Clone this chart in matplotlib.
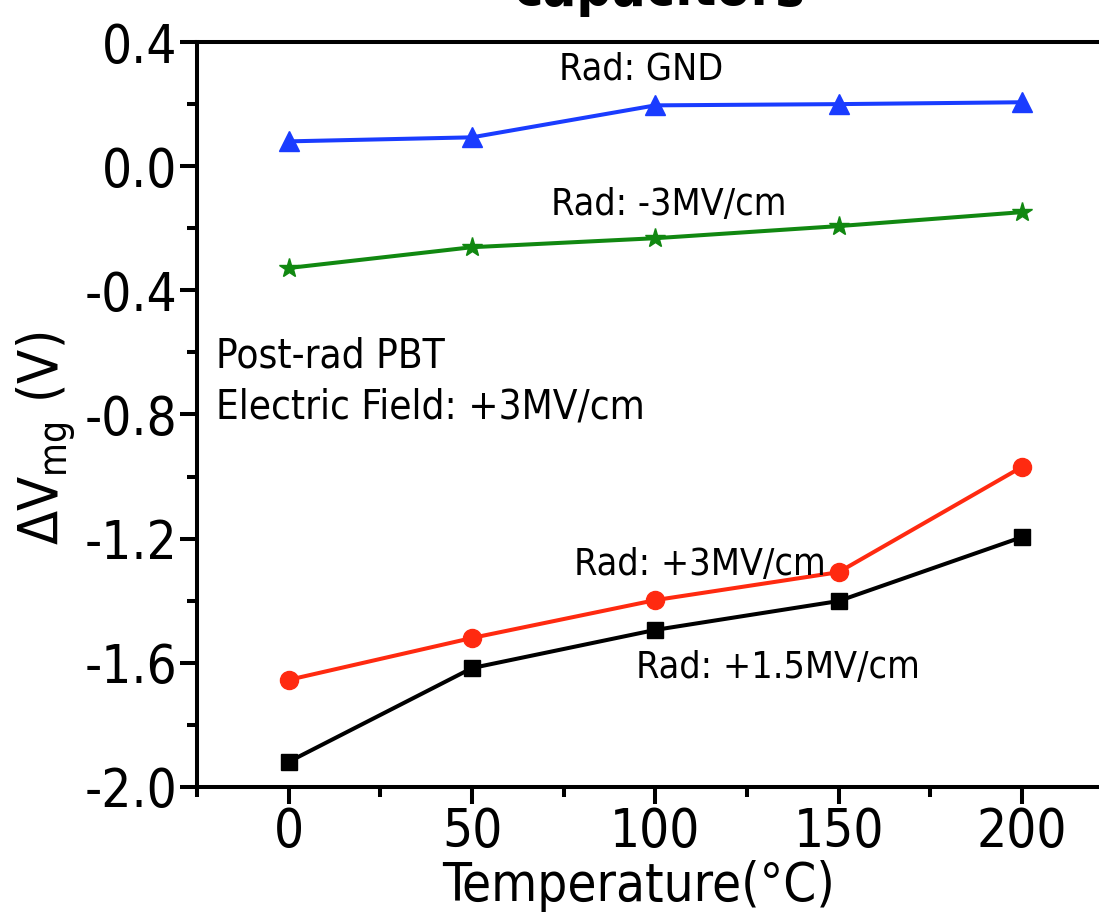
import matplotlib
matplotlib.use("Agg")
import matplotlib.pyplot as plt
from matplotlib.ticker import MultipleLocator

temps = [0, 50, 100, 150, 200]
rad_gnd = [0.080, 0.093, 0.196, 0.200, 0.206]
rad_m3 = [-0.328, -0.261, -0.232, -0.193, -0.148]
rad_p3 = [-1.655, -1.520, -1.398, -1.308, -0.969]
rad_p15 = [-1.919, -1.617, -1.494, -1.401, -1.195]

x_ticks = [0, 50, 100, 150, 200]
y_ticks = [0.4, 0.0, -0.4, -0.8, -1.2, -1.6, -2.0]
y_ticklabels = ["0.4", "0.0", "-0.4", "-0.8", "-1.2", "-1.6", "-2.0"]

plt.rcParams['font.family'] = ['DejaVu Sans']
plt.rcParams['font.stretch'] = 'condensed'

fig = plt.figure(figsize=(10.99, 9.14), dpi=100)
ax = fig.add_axes([0.1793, 0.139, 0.834, 0.815])

lw = 2.9
ax.plot(temps, rad_gnd, color='#1a3cff', lw=lw, marker='^', ms=14, zorder=3)
ax.plot(temps, rad_m3, color='#118811', lw=lw, marker='*', ms=15, zorder=3)
ax.plot(temps, rad_p3, color='#ff2a10', lw=lw, marker='o', ms=13, zorder=3)
ax.plot(temps, rad_p15, color='black', lw=lw, marker='s', ms=11, zorder=3)

ax.set_xlim(-25, 225)
ax.set_ylim(-2.0, 0.4)
ax.set_xticks(x_ticks)
ax.set_xticklabels([str(t) for t in x_ticks])
ax.set_yticks(y_ticks)
ax.set_yticklabels(y_ticklabels)
ax.xaxis.set_minor_locator(MultipleLocator(25))
ax.yaxis.set_minor_locator(MultipleLocator(0.2))

for s in ax.spines.values():
    s.set_linewidth(2.9)
ax.spines['right'].set_visible(False)

ax.tick_params(axis='both', which='major', direction='out', length=12, width=2.9,
               labelsize=38, pad=2)
ax.tick_params(axis='both', which='minor', direction='out', length=7, width=2.9)
ax.tick_params(top=False, right=False, which='both')

fs = 27
ax.text(73.8, 0.31, 'Rad: GND', fontsize=fs, va='center', ha='left')
ax.text(71.6, -0.125, 'Rad: -3MV/cm', fontsize=fs, va='center', ha='left')
ax.text(-19.9, -0.614, 'Post-rad PBT', fontsize=29, va='center', ha='left')
ax.text(-19.9, -0.779, 'Electric Field: +3MV/cm', fontsize=29, va='center', ha='left')
ax.text(77.9, -1.284, 'Rad: +3MV/cm', fontsize=fs, va='center', ha='left')
ax.text(94.8, -1.616, 'Rad: +1.5MV/cm', fontsize=fs, va='center', ha='left')

fig.text(0.581, 0.014, 'Temperature(°C)', fontsize=38, ha='center', va='baseline')
fig.text(0.042, 0.52, r'ΔV$_{\mathregular{mg}}$ (V)', fontsize=40, ha='center',
         va='center', rotation=90)
fig.text(0.6, 0.995, 'capacitors', fontsize=40, fontweight='bold', ha='center',
         va='baseline')

fig.savefig('out.png', dpi=100)
